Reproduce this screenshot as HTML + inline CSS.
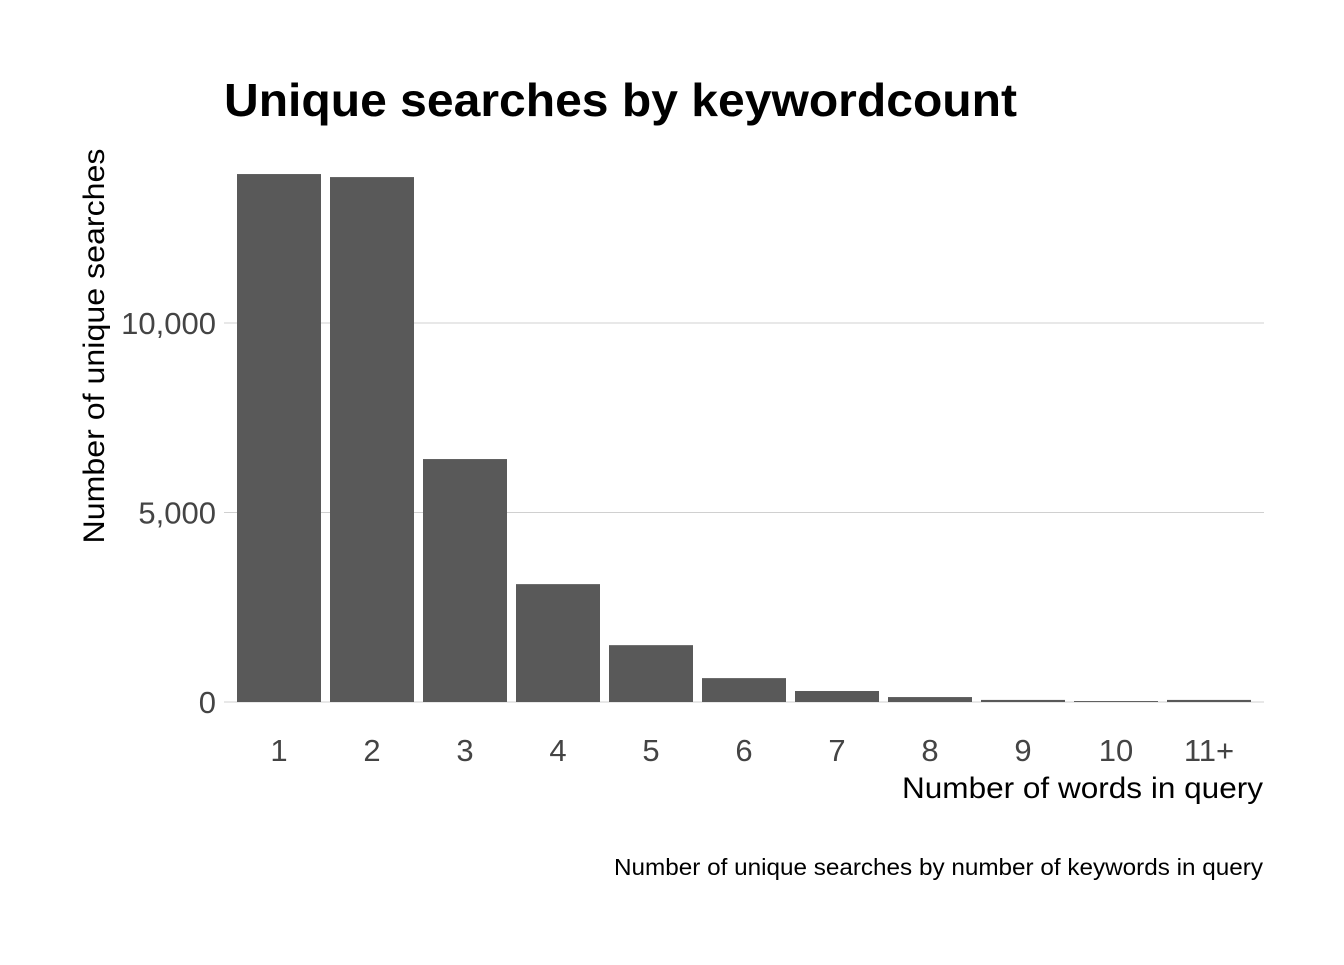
<!DOCTYPE html>
<html><head><meta charset="utf-8"><style>
body{margin:0;background:#fff}
svg text{font-family:"Liberation Sans",Arial,sans-serif}
</style></head><body>
<svg id="chart" width="1344" height="960">
<text x="224" y="116" font-size="46" font-weight="bold" fill="#000" textLength="793" lengthAdjust="spacingAndGlyphs">Unique searches by keywordcount</text>
<text transform="translate(104,346) rotate(-90)" text-anchor="middle" font-size="30" fill="#000" textLength="395" lengthAdjust="spacingAndGlyphs">Number of unique searches</text>
<text x="902" y="798" font-size="30" fill="#000" textLength="361" lengthAdjust="spacingAndGlyphs">Number of words in query</text>
<text x="614" y="875" font-size="23" fill="#000" textLength="649" lengthAdjust="spacingAndGlyphs">Number of unique searches by number of keywords in query</text>
<g id="grid"></g><g id="bars"></g><g id="xt"></g><g id="yt"></g>
</svg>
<script>
const categories=["1","2","3","4","5","6","7","8","9","10","11+"];
const values=[13930,13850,6410,3110,1500,630,290,130,55,25,55];
const yTicks=[0,5000,10000];
const yTickLabels=["0","5,000","10,000"];
const NS="http://www.w3.org/2000/svg";
const left=224,right=1264,y0=702,pxPer=379/10000,c0=279,step=93,bw=84;
const y=v=>y0-v*pxPer;
const x=i=>c0+i*step;
function mk(t,a,p){const e=document.createElementNS(NS,t);for(const k in a)e.setAttribute(k,a[k]);p.appendChild(e);return e;}
const G=document.getElementById('grid'),B=document.getElementById('bars'),XT=document.getElementById('xt'),YT=document.getElementById('yt');
yTicks.forEach((t,i)=>{
 const l=mk('line',{x1:left,x2:right,y1:y(t),y2:y(t),stroke:'#d0d0d0','stroke-width':1},G);
 
 
 const tx=mk('text',{x:216,y:y(t)+11,'text-anchor':'end','font-size':31,fill:'#444'},YT);
 tx.textContent=yTickLabels[i];
 
 
});
categories.forEach((c,i)=>{
 const r=mk('rect',{x:x(i)-bw/2,y:y(values[i]),width:bw,height:values[i]*pxPer,fill:'#595959'},B);
 
 
 const t=mk('text',{x:x(i),y:761,'text-anchor':'middle','font-size':31,fill:'#444'},XT);
 t.textContent=c;
 
 
});
</script>
</body></html>
